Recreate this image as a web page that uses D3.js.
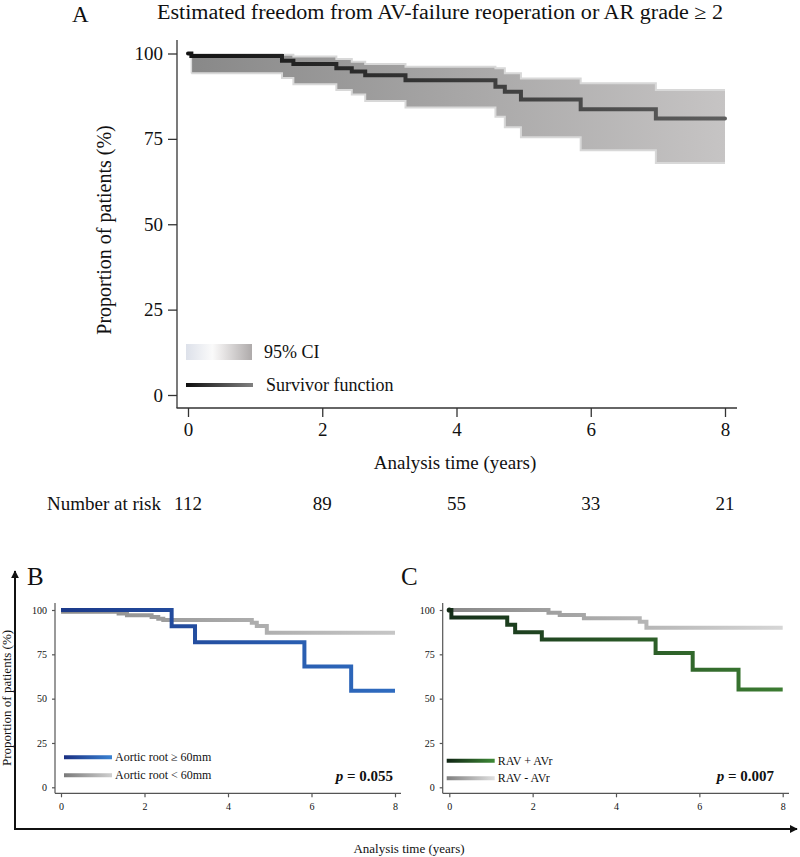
<!DOCTYPE html>
<html><head><meta charset="utf-8">
<script src="https://cdn.jsdelivr.net/npm/d3@7"></script>
<style>
body{margin:0;background:#fff}
svg{display:block}
text{font-family:"Liberation Serif","Times New Roman",serif;fill:#111}
</style></head>
<body><svg id="c" width="800" height="857"></svg>
<script>
// ---------- DATA ----------
const xTicks = [0, 2, 4, 6, 8];
const yTicks = [0, 25, 50, 75, 100];

// Panel A: overall Kaplan-Meier
const survTimeA = [0, 0.05, 1.40, 1.57, 2.21, 2.44, 2.64, 3.24, 4.58, 4.72, 4.96, 5.85, 6.97, 8];
const survA     = [100, 99.3, 97.9, 96.9, 95.7, 94.7, 93.6, 92.2, 90.3, 88.8, 86.5, 83.7, 81.0, 81.0];
const ciTimeA   = [0.05, 1.40, 1.57, 2.21, 2.44, 2.64, 3.24, 4.58, 4.72, 4.96, 5.85, 6.97, 8];
const ciUpperA  = [99.8, 99.6, 99.1, 98.4, 97.6, 96.9, 96.1, 95.7, 94.2, 92.7, 91.3, 89.3, 89.3];
const ciLowerA  = [94.2, 92.8, 91.0, 89.3, 88.0, 86.1, 84.2, 81.5, 78.4, 75.5, 71.7, 67.9, 67.9];
const riskTimes  = [0, 2, 4, 6, 8];
const riskCounts = [112, 89, 55, 33, 21];

// Panel B: aortic root
const rootBigTime = [0, 2.65, 3.21, 5.83, 6.95, 8];
const rootBigSurv = [100, 90.9, 81.8, 68.2, 54.5, 54.5];
const rootSmallTime = [0, 0.05, 1.38, 1.58, 2.17, 2.33, 2.45, 4.57, 4.69, 4.93, 8];
const rootSmallSurv = [100, 99.0, 98.0, 97.0, 96.0, 95.0, 94.3, 92.8, 91.0, 87.2, 87.2];
const labelsB = ["Aortic root \u2265 60mm", "Aortic root < 60mm"];
const pB = "0.055";

// Panel C: RAV +/- AVr
const avrTime = [0, 0.05, 1.39, 1.58, 2.22, 4.95, 5.84, 6.94, 8];
const avrSurv = [100, 95.8, 91.7, 87.5, 83.3, 75.8, 66.3, 55.2, 55.2];
const noAvrTime = [0, 2.38, 2.65, 3.23, 4.57, 4.73, 8];
const noAvrSurv = [100, 98.4, 97.2, 95.3, 93.4, 90.0, 90.0];
const labelsC = ["RAV + AVr", "RAV - AVr"];
const pC = "0.007";

// ---------- DRAW ----------
const SERIF = '"Liberation Serif","Times New Roman",serif';
const svg = d3.select("#c");
const defs = svg.append("defs");
function grad(id, x1, x2, stops){
  const g = defs.append("linearGradient").attr("id", id)
    .attr("gradientUnits","userSpaceOnUse")
    .attr("x1",x1).attr("x2",x2).attr("y1",0).attr("y2",0);
  stops.forEach(([o,c]) => g.append("stop").attr("offset",o).attr("stop-color",c));
  return `url(#${id})`;
}
const pts = (t, s) => t.map((d,i)=>[d, s[i]]);

// ===== Panel A =====
const xA = d3.scaleLinear().domain([0,8]).range([188,725]);
const yA = d3.scaleLinear().domain([0,100]).range([395,53.5]);
const gA = svg.append("g");

// title
svg.append("text").attr("x",72).attr("y",22).attr("font-size",23).text("A");
svg.append("text").attr("x",157).attr("y",19).attr("font-size",20)
  .attr("textLength",566).attr("lengthAdjust","spacingAndGlyphs")
  .text("Estimated freedom from AV-failure reoperation or AR grade \u2265 2");

// CI band
const bandFill = grad("bandA", xA(0), xA(8), [[0,"#888888"],[1,"#c6c4c4"]]);
const area = d3.area().curve(d3.curveStepAfter)
  .x(d=>xA(d[0])).y0(d=>yA(d[2])).y1(d=>yA(d[1]));
const ciPts = ciTimeA.map((t,i)=>[t, ciUpperA[i], ciLowerA[i]]);
gA.append("path").attr("d", area(ciPts)).attr("fill", bandFill);
const stepA = d3.line().curve(d3.curveStepAfter).x(d=>xA(d[0])).y(d=>yA(d[1]));
gA.append("path").attr("d", stepA(pts(ciTimeA, ciUpperA))).attr("fill","none").attr("stroke","#d8d8d8").attr("stroke-width",2);
gA.append("path").attr("d", stepA(pts(ciTimeA, ciLowerA))).attr("fill","none").attr("stroke","#d8d8d8").attr("stroke-width",2);
gA.append("line").attr("x1",xA(ciTimeA[0])).attr("x2",xA(ciTimeA[0]))
  .attr("y1",yA(ciUpperA[0])).attr("y2",yA(ciLowerA[0])).attr("stroke","#d8d8d8").attr("stroke-width",1.5);

// survivor line
const lineA = grad("lineA", xA(0), xA(8), [[0,"#141414"],[1,"#5e5e5e"]]);
gA.append("path").attr("d", stepA(pts(survTimeA, survA))).attr("fill","none")
  .attr("stroke", lineA).attr("stroke-width",4).attr("stroke-linecap","round");

// axes
const axStroke = "#333";
gA.append("line").attr("x1",177).attr("x2",177).attr("y1",40).attr("y2",408).attr("stroke",axStroke).attr("stroke-width",1.3);
gA.append("line").attr("x1",176.5).attr("x2",737).attr("y1",408).attr("y2",408).attr("stroke",axStroke).attr("stroke-width",1.3);
const ayA = gA.append("g").attr("transform","translate(177,0)")
  .call(d3.axisLeft(yA).tickValues(yTicks).tickSize(9).tickPadding(5));
const axA = gA.append("g").attr("transform","translate(0,408)")
  .call(d3.axisBottom(xA).tickValues(xTicks).tickSize(9).tickPadding(6));
[ayA, axA].forEach(a=>{
  a.attr("font-family", SERIF);
  a.select(".domain").remove();
  a.selectAll("line").attr("stroke",axStroke).attr("stroke-width",1.3);
  a.selectAll("text").attr("font-size",19).attr("font-family",SERIF).attr("fill","#111");
});

svg.append("text").attr("transform","translate(111,230) rotate(-90)")
  .attr("text-anchor","middle").attr("font-size",20).text("Proportion of patients (%)");
svg.append("text").attr("x",455).attr("y",469).attr("text-anchor","middle")
  .attr("font-size",19).text("Analysis time (years)");

// legend A
const ciLeg = grad("ciLeg", 186, 252, [[0,"#dde1ea"],[0.4,"#fafafa"],[0.55,"#e9e7e7"],[1,"#aeaaaa"]]);
svg.append("rect").attr("x",186).attr("y",344).attr("width",66).attr("height",16).attr("fill",ciLeg);
svg.append("text").attr("x",264).attr("y",358).attr("font-size",18).text("95% CI");
const svLeg = grad("svLeg", 186, 253, [[0,"#0e0e0e"],[1,"#808080"]]);
svg.append("line").attr("x1",186).attr("x2",253).attr("y1",385).attr("y2",385)
  .attr("stroke",svLeg).attr("stroke-width",4);
svg.append("text").attr("x",266).attr("y",391).attr("font-size",18).text("Survivor function");

// number at risk
svg.append("text").attr("x",47).attr("y",510).attr("font-size",19).text("Number at risk");
svg.append("g").selectAll("text").data(riskTimes).join("text")
  .attr("x",d=>xA(d)).attr("y",510).attr("text-anchor","middle").attr("font-size",19)
  .text((d,i)=>riskCounts[i]);

// ===== Panels B and C =====
function smallPanel(opt){
  const x = d3.scaleLinear().domain([0,8]).range([opt.x0, opt.x8]);
  const y = d3.scaleLinear().domain([0,100]).range([787.3, 610]);
  const g = svg.append("g");
  const step = d3.line().curve(d3.curveStepAfter).x(d=>x(d[0])).y(d=>y(d[1]));
  g.append("line").attr("x1",opt.ax).attr("x2",opt.ax).attr("y1",603).attr("y2",793.3).attr("stroke","#555").attr("stroke-width",1.2);
  g.append("line").attr("x1",opt.ax).attr("x2",opt.axEnd).attr("y1",793.3).attr("y2",793.3).attr("stroke","#555").attr("stroke-width",1.2);
  const ay = g.append("g").attr("transform",`translate(${opt.ax},0)`)
    .call(d3.axisLeft(y).tickValues(yTicks).tickSize(3).tickPadding(5));
  const ax = g.append("g").attr("transform","translate(0,793.3)")
    .call(d3.axisBottom(x).tickValues(xTicks).tickSize(4).tickPadding(6));
  [ay, ax].forEach(a=>{
    a.attr("font-family", SERIF);
    a.select(".domain").remove();
    a.selectAll("line").attr("stroke","#555").attr("stroke-width",1.2);
    a.selectAll("text").attr("font-size",10).attr("font-family",SERIF).attr("fill","#222");
  });
  const c2 = grad(opt.id+"c2", x(0), x(8), opt.grad2);
  g.append("path").attr("d", step(pts(opt.t2, opt.s2))).attr("fill","none").attr("stroke",c2).attr("stroke-width",4);
  const c1 = grad(opt.id+"c1", x(0), x(8), opt.grad1);
  g.append("path").attr("d", step(pts(opt.t1, opt.s1))).attr("fill","none").attr("stroke",c1).attr("stroke-width",4);
  if (opt.dot) g.append("circle").attr("cx",x(0)).attr("cy",y(100)).attr("r",2.6).attr("fill",opt.dot);
  const l1 = grad(opt.id+"l1", opt.lx, opt.lx+48, opt.lgrad1);
  const l2 = grad(opt.id+"l2", opt.lx, opt.lx+48, opt.lgrad2);
  [[l1, opt.ly1, opt.labels[0]], [l2, opt.ly2, opt.labels[1]]].forEach(([c, yy, t])=>{
    g.append("line").attr("x1",opt.lx).attr("x2",opt.lx+48).attr("y1",yy).attr("y2",yy).attr("stroke",c).attr("stroke-width",4);
    g.append("text").attr("x",opt.lx+51).attr("y",yy+4).attr("font-size",12).attr("fill","#222").text(t);
  });
  const pt = g.append("text").attr("x",opt.px).attr("y",781).attr("text-anchor","end")
    .attr("font-size",15).attr("font-weight","bold");
  pt.append("tspan").attr("font-style","italic").text("p");
  pt.append("tspan").text(" = " + opt.p);
  svg.append("text").attr("x",opt.letterX).attr("y",585).attr("font-size",25).text(opt.letter);
}

smallPanel({id:"B", letter:"B", letterX:27, x0:61, x8:395, ax:55, axEnd:401,
  t1: rootBigTime, s1: rootBigSurv, t2: rootSmallTime, s2: rootSmallSurv,
  grad1: [[0,"#1c3a8a"],[1,"#2f6cc0"]], grad2: [[0,"#8a8a8a"],[1,"#c6c6c6"]],
  lgrad1: [[0,"#1a2f82"],[1,"#3a82d2"]], lgrad2: [[0,"#7a7a7a"],[1,"#cfcfcf"]],
  lx: 64, ly1: 757.3, ly2: 775.3, labels: labelsB, px: 393, p: pB});

smallPanel({id:"C", letter:"C", letterX:401, x0:449.3, x8:782.7, ax:442.7, axEnd:789,
  t1: avrTime, s1: avrSurv, t2: noAvrTime, s2: noAvrSurv,
  grad1: [[0,"#15301a"],[1,"#3c7c32"]], grad2: [[0,"#888888"],[1,"#d6d6d6"]],
  lgrad1: [[0,"#102414"],[1,"#3e8a36"]], lgrad2: [[0,"#7f7f7f"],[1,"#e0e0e0"]],
  dot: "#142a16",
  lx: 446.7, ly1: 760.7, ly2: 778.3, labels: labelsC, px: 774, p: pC});

// outer frame arrows
defs.append("marker").attr("id","arr").attr("viewBox","0 0 10 10").attr("refX",9).attr("refY",5)
  .attr("markerWidth",4).attr("markerHeight",4).attr("orient","auto-start-reverse")
  .append("path").attr("d","M0,0 L10,5 L0,10 z").attr("fill","#111");
svg.append("path").attr("d","M15,571 L15,829 L797,829").attr("fill","none")
  .attr("stroke","#111").attr("stroke-width",2)
  .attr("marker-start","url(#arr)").attr("marker-end","url(#arr)");
svg.append("text").attr("transform","translate(11,698) rotate(-90)").attr("text-anchor","middle")
  .attr("font-size",13).text("Proportion of patients (%)");
svg.append("text").attr("x",409).attr("y",853).attr("text-anchor","middle")
  .attr("font-size",13).text("Analysis time (years)");
</script>
</body></html>
